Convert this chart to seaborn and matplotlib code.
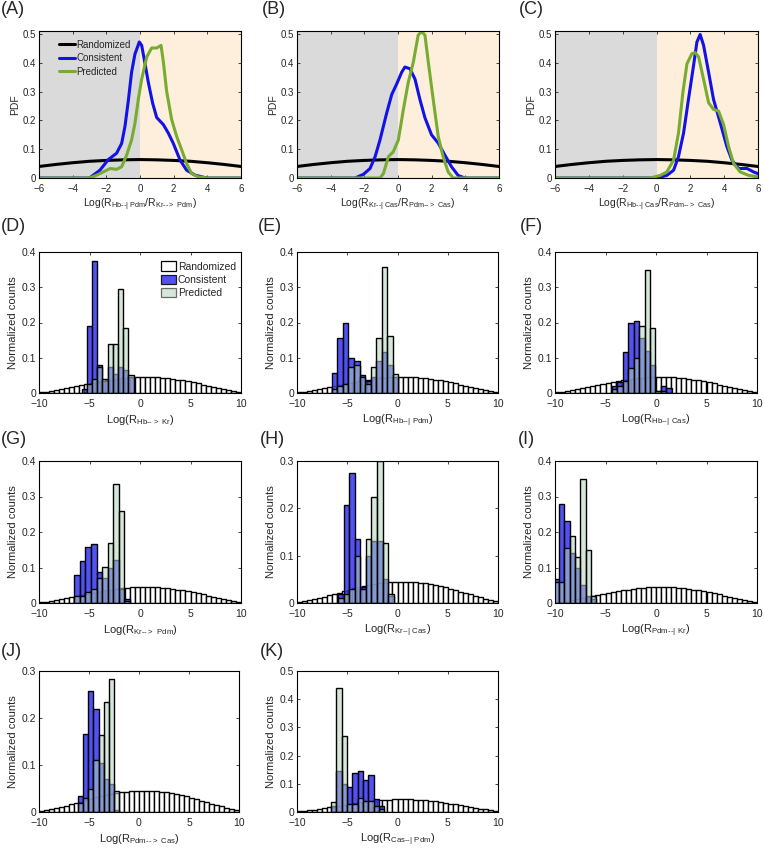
import numpy as np
import matplotlib
matplotlib.use("Agg")
import matplotlib.pyplot as plt
from matplotlib.patches import Patch
from matplotlib.lines import Line2D
from matplotlib.ticker import FormatStrFormatter
import seaborn as sns

# ---------------- data ----------------
# row 1: PDFs of log ratios
rand_pdf_x = [-6, -5, -4, -3, -2, -1, 0, 1, 2, 3, 4, 5, 6]
rand_pdf_y = [0.040, 0.047, 0.053, 0.058, 0.061, 0.063, 0.064, 0.063, 0.061, 0.058, 0.053, 0.047, 0.040]

a_cons_x = [-6, -3.0, -2.38, -1.88, -1.39, -1.09, -0.89, -0.69, -0.5, -0.3, -0.04, 0.1, 0.3, 0.5, 0.75,
            0.99, 1.39, 1.68, 1.98, 2.38, 2.77, 3.27, 3.96, 6]
a_cons_y = [0, 0, 0.027, 0.064, 0.086, 0.12, 0.18, 0.27, 0.367, 0.43, 0.472, 0.46, 0.396, 0.33, 0.26,
            0.21, 0.185, 0.156, 0.12, 0.062, 0.027, 0.01, 0, 0]
a_pred_x = [-6, -3.0, -2.57, -2.18, -1.78, -1.39, -1.09, -0.79, -0.5, -0.3, -0.1, 0.1, 0.4, 0.69, 0.99,
            1.25, 1.39, 1.58, 1.88, 2.18, 2.48, 2.77, 3.07, 3.47, 3.96, 6]
a_pred_y = [0, 0, 0.01, 0.021, 0.033, 0.03, 0.039, 0.08, 0.132, 0.19, 0.273, 0.343, 0.42, 0.451, 0.451,
            0.46, 0.402, 0.302, 0.203, 0.144, 0.097, 0.05, 0.015, 0.004, 0, 0]

b_cons_x = [-6, -2.55, -2.05, -1.66, -1.36, -1.07, -0.67, -0.37, -0.08, 0.22, 0.41, 0.71, 1.01, 1.3,
            1.6, 1.99, 2.39, 2.78, 3.18, 3.57, 3.97, 6]
b_cons_y = [0, 0, 0.013, 0.033, 0.074, 0.132, 0.226, 0.29, 0.326, 0.367, 0.385, 0.379, 0.343, 0.273,
            0.209, 0.15, 0.121, 0.08, 0.039, 0.009, 0, 0]
b_pred_x = [-6, -1.07, -0.87, -0.57, -0.28, 0.02, 0.32, 0.61, 0.91, 1.2, 1.4, 1.6, 1.8, 2.09, 2.39,
            2.68, 2.98, 3.28, 6]
b_pred_y = [0, 0, 0.015, 0.074, 0.091, 0.132, 0.238, 0.332, 0.402, 0.496, 0.508, 0.496, 0.402, 0.273,
            0.144, 0.074, 0.021, 0, 0]

c_cons_x = [-6, 0.02, 0.61, 1.01, 1.3, 1.6, 1.89, 2.19, 2.39, 2.58, 2.78, 3.08, 3.37, 3.77, 4.16,
            4.46, 4.85, 5.35, 5.74, 6.0]
c_cons_y = [0, 0, 0.009, 0.027, 0.074, 0.156, 0.273, 0.39, 0.472, 0.498, 0.461, 0.367, 0.273, 0.191,
            0.109, 0.062, 0.033, 0.033, 0.021, 0.015]
c_pred_x = [-6, -0.37, 0.22, 0.61, 1.01, 1.3, 1.56, 1.8, 2.09, 2.29, 2.49, 2.78, 3.08, 3.37, 3.67,
            3.97, 4.26, 4.56, 4.95, 5.45, 6.0]
c_pred_y = [0, 0, 0.009, 0.021, 0.062, 0.156, 0.297, 0.396, 0.431, 0.435, 0.42, 0.343, 0.261, 0.238,
            0.232, 0.185, 0.109, 0.05, 0.021, 0.009, 0.004]

# rows 2-4: normalized histograms, randomized on 0.5 bins from -10 to 10
rand_counts = [0.003, 0.004, 0.006, 0.008, 0.010, 0.013, 0.016, 0.019, 0.022, 0.025,
               0.028, 0.031, 0.034, 0.036, 0.038, 0.040, 0.042, 0.043, 0.044, 0.045,
               0.045, 0.045, 0.045, 0.044, 0.043, 0.042, 0.040, 0.038, 0.036, 0.033,
               0.030, 0.027, 0.024, 0.021, 0.018, 0.015, 0.012, 0.009, 0.006, 0.004]

# first bin edge and bin width of consistent / predicted histograms
d_bins = (-5.78, 0.515)
d_cons = [0.01, 0.19, 0.375, 0.08, 0.035, 0.075, 0.055, 0.075, 0.065, 0.045]
d_pred = [0.0, 0.025, 0.04, 0.075, 0.04, 0.14, 0.14, 0.295, 0.185, 0.05]

e_bins = (-6.53, 0.55)
e_cons = [0.057, 0.157, 0.2, 0.1, 0.09, 0.05, 0.035, 0.045, 0.09, 0.115, 0.08, 0.045]
e_pred = [0.01, 0.02, 0.025, 0.075, 0.08, 0.045, 0.025, 0.075, 0.155, 0.357, 0.163, 0.055]

f_bins = (-4.37, 0.54)
f_cons = [0.02, 0.03, 0.115, 0.2, 0.205, 0.155, 0.12, 0.08, 0.005, 0.02, 0.015]
f_pred = [0.01, 0.02, 0.035, 0.07, 0.1, 0.19, 0.35, 0.185, 0.005, 0.005, 0.0]

g_bins = (-6.5, 0.55)
g_cons = [0.079, 0.119, 0.157, 0.167, 0.086, 0.07, 0.1, 0.12, 0.04, 0.01]
g_pred = [0.02, 0.02, 0.03, 0.04, 0.07, 0.102, 0.17, 0.335, 0.26, 0.005]

h_bins = (-5.89, 0.55)
h_cons = [0.02, 0.208, 0.275, 0.135, 0.033, 0.1, 0.13, 0.13, 0.05, 0.015]
h_pred = [0.01, 0.02, 0.03, 0.1, 0.03, 0.135, 0.225, 0.3, 0.126, 0.02]

i_bins = (-10.1, 0.52)
i_cons = [0.067, 0.28, 0.23, 0.14, 0.1, 0.05, 0.02, 0.01]
i_pred = [0.06, 0.06, 0.155, 0.19, 0.13, 0.35, 0.15, 0.02]

j_bins = (-6.13, 0.52)
j_cons = [0.033, 0.167, 0.258, 0.22, 0.105, 0.07, 0.06, 0.005]
j_pred = [0.02, 0.03, 0.05, 0.11, 0.163, 0.235, 0.283, 0.045]

k_bins = (-6.6, 0.53)
k_cons = [0.02, 0.145, 0.1, 0.09, 0.14, 0.145, 0.115, 0.13, 0.045, 0.02]
k_pred = [0.035, 0.44, 0.27, 0.03, 0.03, 0.05, 0.04, 0.04, 0.02, 0.01]

series_names = ["Randomized", "Consistent", "Predicted"]

# ---------------- style ----------------
sns.set_style("ticks", {"xtick.direction": "in", "ytick.direction": "in",
                        "xtick.top": True, "ytick.right": True})
plt.rcParams["font.family"] = ["Liberation Sans", "DejaVu Sans"]
plt.rcParams["mathtext.fontset"] = "custom"
plt.rcParams["mathtext.rm"] = "Liberation Sans"
plt.rcParams["axes.linewidth"] = 0.8
plt.rcParams["xtick.major.size"] = 2.5
plt.rcParams["ytick.major.size"] = 2.5

W, H = 764, 851
fig = plt.figure(figsize=(W / 100, H / 100), dpi=100)


def rect(l, t, r, b):
    return [l / W, 1 - b / H, (r - l) / W, (b - t) / H]


def rlab(a, b=None):
    s = "Log(R$_{\\mathrm{" + a + "}}$"
    if b is not None:
        s += "/R$_{\\mathrm{" + b + "}}$"
    return s + ")"


INH = "\u2010\u2010{|}\\ "
ACT = "\u2010\u2010{>}\\ "

BLUE = "#1212e6"
GREEN = "#77ac30"
C_BLUE = "#3434f2"
C_GREEN = "#b4d4bc"


def style_ax(ax, xticks, yticks, fs=7):
    ax.set_xticks(xticks)
    ax.set_yticks(yticks)
    ax.yaxis.set_major_formatter(FormatStrFormatter("%g"))
    ax.tick_params(labelsize=fs, width=0.6)
    ax.tick_params(axis="x", pad=4)
    ax.tick_params(axis="y", pad=2)
    for s in ax.spines.values():
        s.set_visible(True)
        s.set_color("black")


# ---------------- row 1 ----------------
pdf_panels = [
    ("(A)", (39, 31, 241, 178), (a_cons_x, a_cons_y), (a_pred_x, a_pred_y), rlab("Hb" + INH + "Pdm", "Kr" + ACT + "Pdm"), 1),
    ("(B)", (297, 31, 499, 178), (b_cons_x, b_cons_y), (b_pred_x, b_pred_y), rlab("Kr" + INH + "Cas", "Pdm" + ACT + "Cas"), 262),
    ("(C)", (555, 31, 758, 178), (c_cons_x, c_cons_y), (c_pred_x, c_pred_y), rlab("Hb" + INH + "Cas", "Pdm" + ACT + "Cas"), 519),
]
for k, (tag, box, cons, pred, xlab, tx) in enumerate(pdf_panels):
    ax = fig.add_axes(rect(*box))
    ax.axvspan(-6, 0, color="#dadada", lw=0, zorder=0)
    ax.axvspan(0, 6, color="#fdefdc", lw=0, zorder=0)
    sns.lineplot(x=rand_pdf_x, y=rand_pdf_y, ax=ax, color="black", lw=2.2, estimator=None, sort=False)
    sns.lineplot(x=cons[0], y=cons[1], ax=ax, color=BLUE, lw=2.2, estimator=None, sort=False)
    sns.lineplot(x=pred[0], y=pred[1], ax=ax, color=GREEN, lw=2.2, estimator=None, sort=False)
    ax.set_xlim(-6, 6)
    ax.set_ylim(0, 0.51)
    style_ax(ax, np.arange(-6, 7, 2), np.arange(0, 0.51, 0.1))
    ax.set_xlabel(xlab, fontsize=7.5, labelpad=2)
    ax.set_ylabel("PDF", fontsize=7.5, labelpad=2)
    fig.text(tx / W, 1 - 9 / H, tag, fontsize=13, va="center", ha="left")
    if k == 0:
        handles = [Line2D([], [], color=c, lw=2.2) for c in ["black", BLUE, GREEN]]
        ax.legend(handles, series_names, loc="upper left", bbox_to_anchor=(0.07, 0.98),
                  frameon=False, fontsize=7, handlelength=1.6, handletextpad=0.2,
                  labelspacing=0.35, borderaxespad=0.2)

# ---------------- rows 2-4 ----------------
rand_edges = [-10 + 0.5 * i for i in range(41)]
rand_centers = [e + 0.25 for e in rand_edges[:-1]]

hist_panels = [
    ("(D)", (39, 252, 241, 393), d_bins, d_cons, d_pred, 0.4, rlab("Hb" + ACT + "Kr"), (1, 227)),
    ("(E)", (297, 252, 498, 393), e_bins, e_cons, e_pred, 0.4, rlab("Hb" + INH + "Pdm"), (258, 227)),
    ("(F)", (555, 252, 757, 393), f_bins, f_cons, f_pred, 0.4, rlab("Hb" + INH + "Cas"), (520, 227)),
    ("(G)", (39, 461, 241, 603), g_bins, g_cons, g_pred, 0.4, rlab("Kr" + ACT + "Pdm"), (1, 439)),
    ("(H)", (297, 461, 498, 603), h_bins, h_cons, h_pred, 0.3, rlab("Kr" + INH + "Cas"), (260, 439)),
    ("(I)", (555, 461, 757, 603), i_bins, i_cons, i_pred, 0.4, rlab("Pdm" + INH + "Kr"), (518, 439)),
    ("(J)", (39, 671, 239, 812), j_bins, j_cons, j_pred, 0.3, rlab("Pdm" + ACT + "Cas"), (1, 652)),
    ("(K)", (297, 671, 498, 812), k_bins, k_cons, k_pred, 0.5, rlab("Cas" + INH + "Pdm"), (260, 652)),
]

for k, (tag, box, (b0, bw), cons, pred, ymax, xlab, tpos) in enumerate(hist_panels):
    ax = fig.add_axes(rect(*box))
    edges = [b0 + bw * i for i in range(len(cons) + 1)]
    centers = [e + bw / 2 for e in edges[:-1]]
    sns.histplot(x=rand_centers, weights=rand_counts, bins=rand_edges, ax=ax, color="white",
                 alpha=1, edgecolor="black", linewidth=1.0)
    sns.histplot(x=centers, weights=cons, bins=edges, ax=ax, color=C_BLUE,
                 alpha=0.85, edgecolor="black", linewidth=1.0)
    sns.histplot(x=centers, weights=pred, bins=edges, ax=ax, color=C_GREEN,
                 alpha=0.55, edgecolor="black", linewidth=1.0)
    ax.set_xlim(-10, 10)
    ax.set_ylim(0, ymax)
    style_ax(ax, [-10, -5, 0, 5, 10], np.arange(0, ymax + 0.001, 0.1), fs=7.5)
    ax.set_xlabel(xlab, fontsize=8, labelpad=3)
    ax.set_ylabel("Normalized counts", fontsize=8, labelpad=3)
    fig.text(tpos[0] / W, 1 - tpos[1] / H, tag, fontsize=13, va="center", ha="left")
    if k == 0:
        handles = [Patch(facecolor="white", edgecolor="black", lw=0.9),
                   Patch(facecolor=C_BLUE, alpha=0.85, edgecolor="black", lw=0.9),
                   Patch(facecolor=C_GREEN, alpha=0.55, edgecolor="black", lw=0.9)]
        ax.legend(handles, series_names, loc="upper right", bbox_to_anchor=(1.0, 0.97),
                  frameon=False, fontsize=7.5, handlelength=1.4, handleheight=1.0,
                  handletextpad=0.2, labelspacing=0.3, borderaxespad=0.1)

fig.savefig("out.png", dpi=100)
